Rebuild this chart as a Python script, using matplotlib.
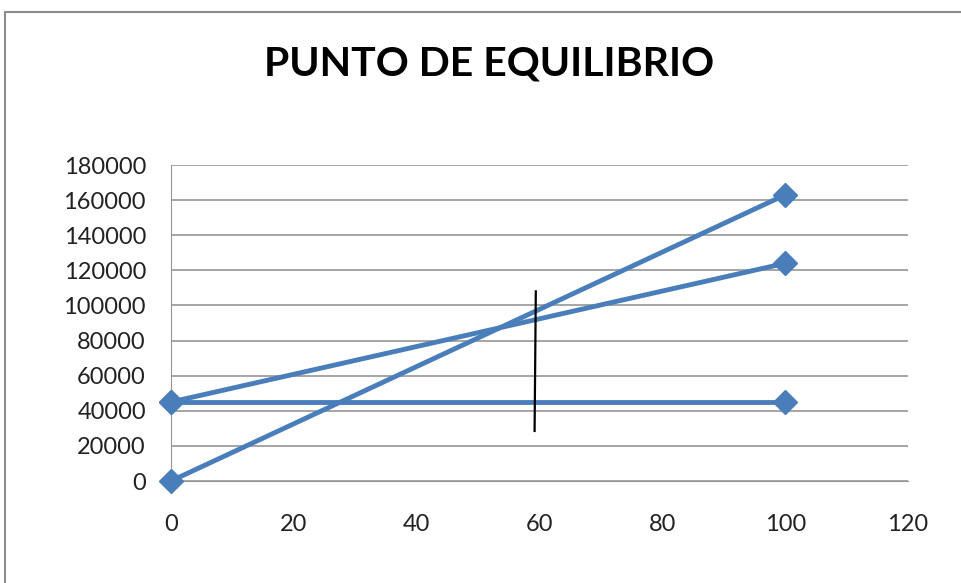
import matplotlib.pyplot as plt
from matplotlib.patches import Rectangle

# datos
unidades = [0, 100]
ingresos = [0, 163000]
costo_total = [45000, 124000]
costo_fijo = [45000, 45000]
# linea vertical dibujada a mano
marca_x = [59.4, 59.2]
marca_y = [108000, 28500]

yticks = list(range(0, 180001, 20000))
xticks = list(range(0, 121, 20))

plt.rcParams['font.family'] = ['Lato', 'DejaVu Sans']

fig = plt.figure(figsize=(9.61, 5.83), dpi=100)
# borde del area del grafico
fig.patches.append(Rectangle((5/961, -0.1), 1.2, 1 - 12/583 + 0.1, transform=fig.transFigure,
                             fill=False, edgecolor='#8c8c8c', linewidth=1.5))

ax = fig.add_axes([171/961, 1 - 481/583, (908-171)/961, (481-165)/583])
azul = '#4a7ebb'
for serie in [ingresos, costo_total, costo_fijo]:
    ax.plot(unidades, serie, color=azul, linewidth=3.5, marker='D', markersize=12,
            clip_on=False, zorder=3)
ax.plot(marca_x, marca_y, color='black', linewidth=1.6, zorder=4)

ax.set_xlim(0, 120)
ax.set_ylim(0, 180000)
ax.set_xticks(xticks)
ax.set_yticks(yticks)
ax.grid(axis='y', color='#969696', linewidth=1.2)
ax.set_axisbelow(True)
for s in ['top', 'right']:
    ax.spines[s].set_visible(False)
ax.spines['left'].set_color('#969696')
ax.spines['bottom'].set_color('#969696')
ax.tick_params(axis='both', length=0, labelsize=17, colors='#222222')
ax.tick_params(axis='y', pad=18)
ax.tick_params(axis='x', pad=24)

fig.text(489/961, 1 - 64/583, 'PUNTO DE EQUILIBRIO', ha='center', va='center',
         fontsize=29.5, fontweight='bold')

fig.savefig('out.png', dpi=100)
